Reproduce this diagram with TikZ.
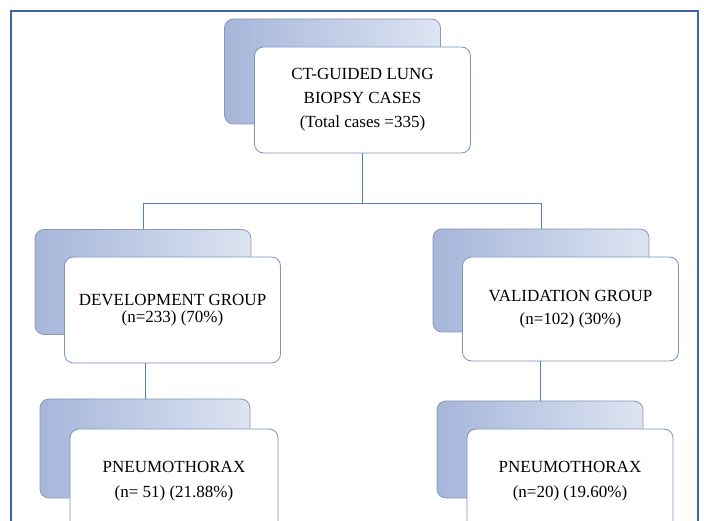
\documentclass[tikz,border=0pt]{standalone}
\usepackage{fontspec}
\setmainfont{Liberation Serif}
\definecolor{framecol}{HTML}{4262A8}
\definecolor{linkcol}{HTML}{5580C0}
\definecolor{backline}{HTML}{8C98B0}
\definecolor{backdark}{HTML}{A6B6DA}
\definecolor{backlight}{HTML}{DDE4F2}
\definecolor{frontline}{HTML}{7893C4}
\begin{document}
\begin{tikzpicture}[x=1pt, y=1pt,
    backbox/.style={draw=backline, line width=0.8pt, rounded corners=9pt,
      left color=backdark, right color=backlight,
      minimum width=216pt, minimum height=105pt, inner sep=0pt},
    frontbox/.style={draw=frontline, line width=0.8pt, fill=white, rounded corners=9pt,
      minimum width=216pt, minimum height=106pt, align=center,
      font=\fontsize{17}{24}\selectfont},
    link/.style={draw=linkcol, line width=0.9pt}]
    \useasboundingbox (0,0) rectangle (704,521);
    \clip (0,0) rectangle (704,521);

    % Outer frame (runs off the bottom edge)
    \draw[framecol, line width=1.4pt] (11,-30) rectangle (698,510);

    % Top pair: all biopsy cases
    \node[backbox]  (casesback) at (332.5, 449.5) {};
    \node[frontbox] (cases)     at (362.5, 421)
      {CT-GUIDED LUNG\\BIOPSY CASES\\(Total cases =335)};

    % Second row: development (left) and validation (right)
    \node[backbox]  (devback) at (143, 239) {};
    \node[frontbox, font=\fontsize{17}{17}\selectfont] (dev) at (172.5, 211)
      {DEVELOPMENT GROUP\\(n=233) (70\%)};
    \node[backbox, minimum height=103pt]  (valback) at (541, 240.5) {};
    \node[frontbox, minimum height=104pt, font=\fontsize{17}{23}\selectfont] (val) at (570.5, 212)
      {VALIDATION GROUP\\(n=102) (30\%)};

    % Third row: pneumothorax in each group
    \node[backbox, minimum width=210pt, minimum height=99pt] (devpnxback) at (145, 72.5) {};
    \node[frontbox, minimum width=208pt, minimum height=104pt, font=\fontsize{17}{25}\selectfont] (devpnx) at (174, 40)
      {PNEUMOTHORAX\\(n= 51) (21.88\%)};
    \node[backbox, minimum width=206pt, minimum height=97pt] (valpnxback) at (540, 71.5) {};
    \node[frontbox, minimum width=206pt, minimum height=104pt, font=\fontsize{17}{25}\selectfont] (valpnx) at (570, 40)
      {PNEUMOTHORAX\\(n=20) (19.60\%)};

    % Connectors
    \draw[link] (cases.south) -- ++(0,-50) coordinate (split);
    \draw[link] (split) -| (devback.north);
    \draw[link] (split) -| (valback.north);
    \draw[link] (dev.south -| devpnxback.north) -- (devpnxback.north);
    \draw[link] (val.south -| valpnxback.north) -- (valpnxback.north);
  \end{tikzpicture}
\end{document}
